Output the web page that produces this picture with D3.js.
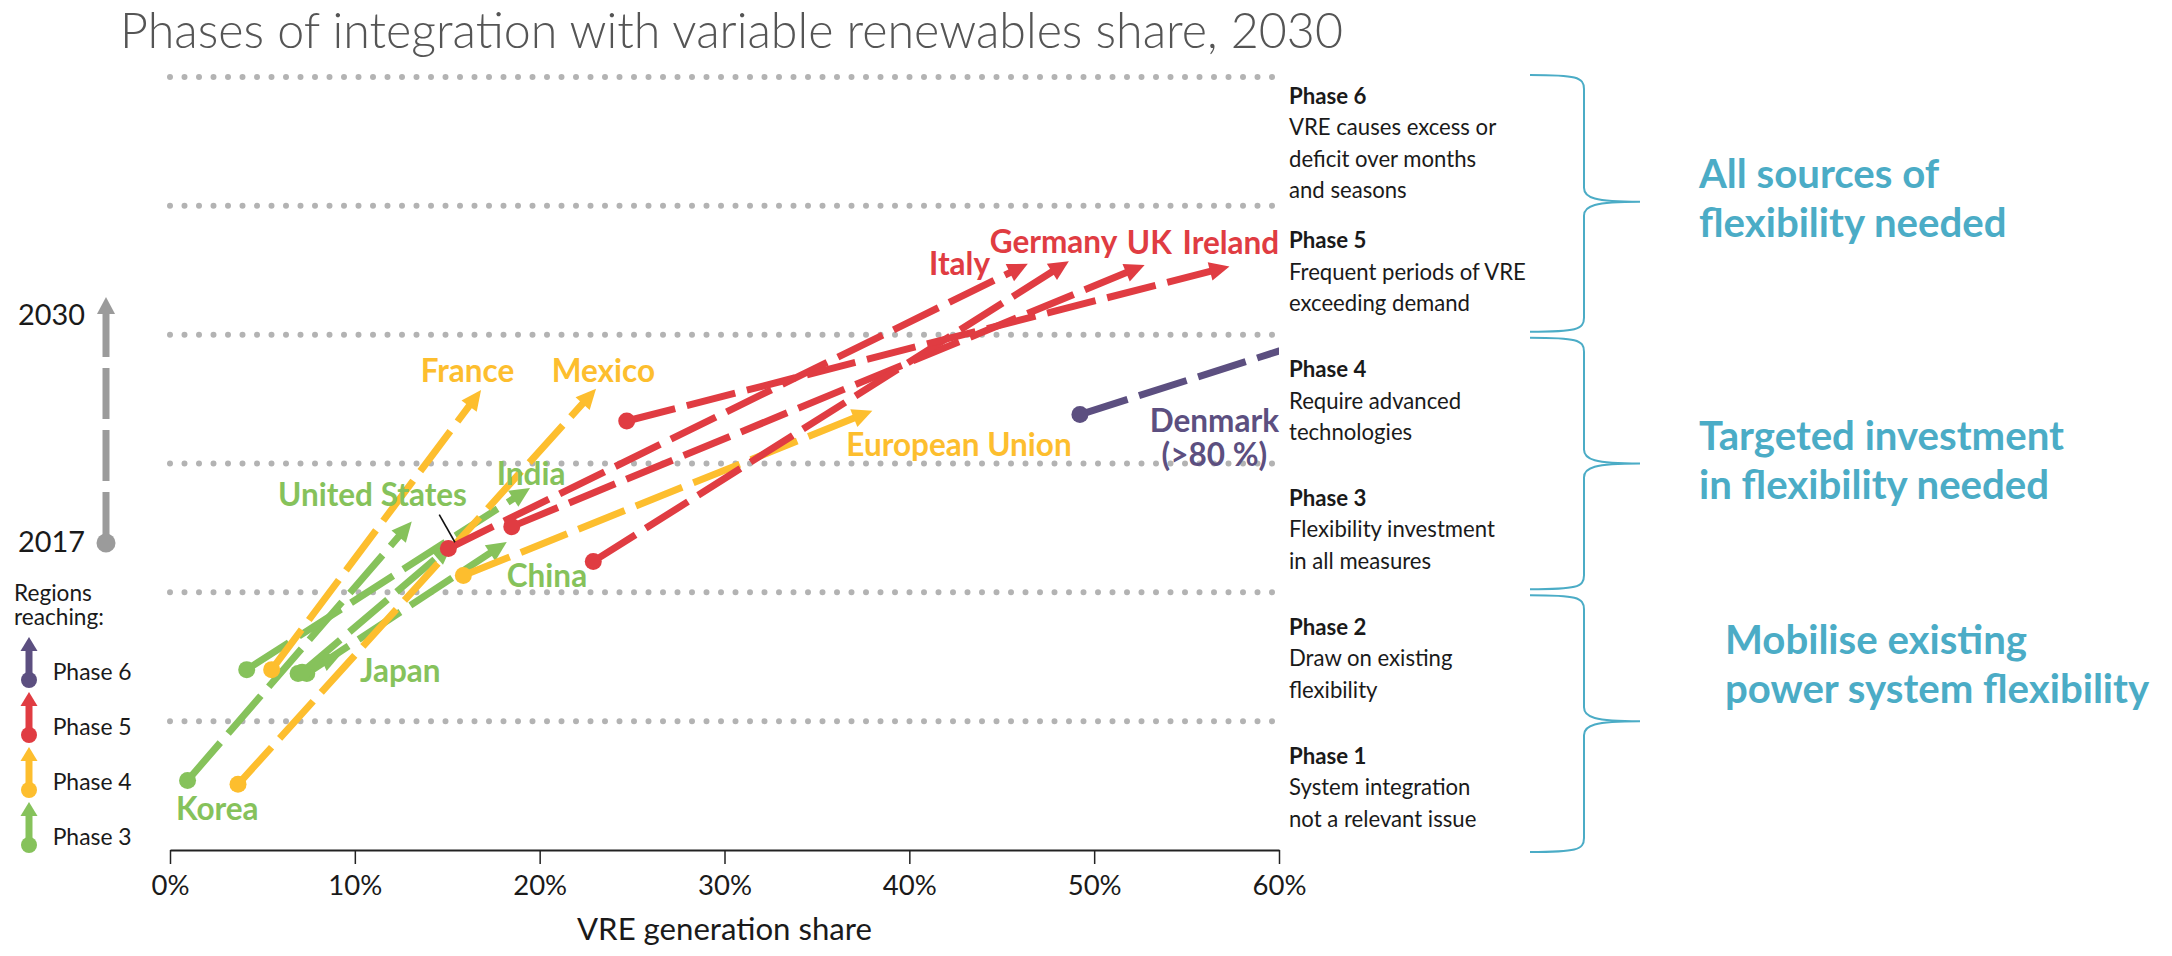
<!DOCTYPE html>
<html>
<head>
<meta charset="utf-8">
<script src="https://cdn.jsdelivr.net/npm/d3@7"></script>
<style>
  body { margin: 0; background: #fff; }
  text { font-family: Lato, "Open Sans", sans-serif; }
</style>
</head>
<body>
<script>

// regions, the phase they reach in 2030, and 2017 / 2030 positions
// (share of VRE in generation, %; vertical position on the phase scale 0-6)
var regions   = ["Korea", "India", "Japan", "China", "United States", "France", "Mexico", "European Union", "Italy", "UK", "Germany", "Ireland", "Denmark"];
var reaching  = [3, 3, 3, 3, 3, 4, 4, 4, 5, 5, 5, 5, 6];
var share2017 = [0.95, 4.15, 6.93, 7.40, 7.15, 5.50, 3.68, 15.87, 15.06, 18.49, 22.90, 24.71, 49.23];
var level2017 = [0.54, 1.40, 1.37, 1.37, 1.38, 1.40, 0.51, 2.13, 2.34, 2.51, 2.24, 3.33, 3.38];
var share2030 = [13.08, 19.48, 9.25, 18.22, 15.26, 16.83, 23.05, 38.00, 46.41, 52.73, 48.63, 57.32, 82.0];
var level2030 = [2.55, 2.81, 1.52, 2.39, 2.37, 3.57, 3.58, 3.41, 4.55, 4.54, 4.57, 4.53, 4.88];

var phases = ["Phase 1", "Phase 2", "Phase 3", "Phase 4", "Phase 5", "Phase 6"];
var phaseNotes = [
  ["System integration", "not a relevant issue"],
  ["Draw on existing", "flexibility"],
  ["Flexibility investment", "in all measures"],
  ["Require advanced", "technologies"],
  ["Frequent periods of VRE", "exceeding demand"],
  ["VRE causes excess or", "deficit over months", "and seasons"]
];
var needs = [
  ["Mobilise existing", "power system flexibility"],
  ["Targeted investment", "in flexibility needed"],
  ["All sources of", "flexibility needed"]
];
var xTicks = [0, 10, 20, 30, 40, 50, 60];
var legendPhases = [6, 5, 4, 3];

var colors = {3: "#86c25b", 4: "#fdbe2e", 5: "#e03c42", 6: "#5c4f80"};
var teal = "#4bacc6";
var ink = "#1a1a1a";

// where each name sits relative to its 2030 arrow (or 2017 dot)
var labelPos = {
  "Korea":          {from: "start", dx: -11.6, dy: 39.4},
  "India":          {from: "end", dx: -33.3, dy: -3},
  "Japan":          {from: "end", dx: 19, dy: 27.5},
  "China":          {from: "end", dx: 0, dy: 45},
  "United States":  {from: "end", dx: -174, dy: -38.4},
  "France":         {from: "end", dx: -60.4, dy: -7.7},
  "Mexico":         {from: "end", dx: -44.3, dy: -6.3},
  "European Union": {from: "end", dx: -26, dy: 45.5},
  "Italy":          {from: "end", dx: -98.8, dy: 10.7},
  "UK":             {from: "end", dx: -17.8, dy: -10.9},
  "Germany":        {from: "end", dx: -79.1, dy: -7.8},
  "Ireland":        {from: "end", dx: -46.9, dy: -12}
};

var svg = d3.select("body").append("svg")
    .attr("width", 2172)
    .attr("height", 956);

var x = d3.scaleLinear().domain([0, 60]).range([170, 1279]);
var y = d3.scaleLinear().domain([0, 6]).range([850, 77]);

function fitSize(str, weight, target) {
  var t = svg.append("text").attr("x", -2000).attr("y", -100)
    .style("font-weight", weight).style("font-size", "40px").text(str);
  var w = t.node().getComputedTextLength();
  t.remove();
  return 40 * target / w;
}

// title
svg.append("text")
    .attr("x", 120).attr("y", 48)
    .style("font-weight", 300)
    .style("font-size", fitSize("Phases of integration with variable renewables share, 2030", 300, 1223) + "px")
    .style("fill", "#555")
    .text("Phases of integration with variable renewables share, 2030");

// dotted phase boundaries
svg.append("g").selectAll("line")
    .data(d3.range(1, 7))
    .enter().append("line")
    .attr("x1", x(0)).attr("x2", x(60))
    .attr("y1", function(d) { return y(d); })
    .attr("y2", function(d) { return y(d); })
    .attr("stroke", "#b3b3b3")
    .attr("stroke-width", 6)
    .attr("stroke-linecap", "round")
    .attr("stroke-dasharray", "0,14.5");

// x axis
var tickSize = fitSize("10%", 400, 54);
var xAxis = svg.append("g")
    .attr("transform", "translate(0," + y(0) + ")")
    .call(d3.axisBottom(x).tickValues(xTicks)
      .tickFormat(function(d) { return d + "%"; })
      .tickSizeInner(14).tickSizeOuter(0).tickPadding(11));
xAxis.select(".domain").attr("stroke", "#222").attr("stroke-width", 2);
xAxis.selectAll(".tick line").attr("stroke", "#222").attr("stroke-width", 1.5);
xAxis.selectAll(".tick text")
    .style("font-family", "Lato, 'Open Sans', sans-serif")
    .style("font-size", tickSize + "px")
    .style("fill", ink);

svg.append("text")
    .attr("x", (x(0) + x(60)) / 2).attr("y", 940)
    .attr("text-anchor", "middle")
    .style("font-size", fitSize("VRE generation share", 400, 295) + "px")
    .style("fill", ink)
    .text("VRE generation share");

// phase descriptions on the right
var descSize = fitSize("Frequent periods of VRE", 400, 237);
var headSize = fitSize("Phase 6", 700, 77.5);
var pitch = 31.5;
phases.forEach(function(p, k) {
  var lines = [p].concat(phaseNotes[k]);
  var c = (y(k) + y(k + 1)) / 2;
  var top = c - (lines.length - 1) * pitch / 2 + 9.5;
  var t = svg.append("text").attr("x", 1289).attr("y", top).style("fill", ink);
  lines.forEach(function(s, j) {
    t.append("tspan")
      .attr("x", 1289)
      .attr("y", top + j * pitch)
      .style("font-weight", j == 0 ? 700 : 400)
      .style("font-size", (j == 0 ? headSize : descSize) + "px")
      .text(s);
  });
});

// braces grouping the phases
function brace(y0, ym, y1) {
  var xl = 1530, xs = 1584, xt = 1640, r = 14;
  return "M" + xl + "," + y0
    + "C" + (xs - 8) + "," + y0 + " " + xs + "," + (y0 + 2) + " " + xs + "," + (y0 + r)
    + "L" + xs + "," + (ym - r)
    + "C" + xs + "," + (ym - 4) + " " + (xs + 10) + "," + ym + " " + xt + "," + ym
    + "C" + (xs + 10) + "," + ym + " " + xs + "," + (ym + 4) + " " + xs + "," + (ym + r)
    + "L" + xs + "," + (y1 - r)
    + "C" + xs + "," + (y1 - 2) + " " + (xs - 8) + "," + y1 + " " + xl + "," + y1;
}
var tealSize = (fitSize("power system flexibility", 700, 422) + fitSize("Targeted investment", 700, 367)) / 2;
var needX = [1725, 1699, 1699];
var needBase = [654, 450, 187.5];
needs.forEach(function(lines, g) {
  var lo = g * 2, hi = g * 2 + 2;
  svg.append("path")
    .attr("d", brace(y(hi) + (g == 2 ? -2 : 3), y(lo + 1) - (g == 2 ? 4 : 0), y(lo) + (g == 0 ? 2 : -3)))
    .attr("fill", "none")
    .attr("stroke", teal)
    .attr("stroke-width", 2);
  lines.forEach(function(s, j) {
    svg.append("text")
      .attr("x", needX[g]).attr("y", needBase[g] + j * 49)
      .style("font-weight", 700)
      .style("font-size", tealSize + "px")
      .style("fill", teal)
      .text(s);
  });
});

// 2017 -> 2030 arrows
svg.append("defs").append("clipPath").attr("id", "plot")
  .append("rect").attr("x", x(0) - 20).attr("y", 0).attr("width", x(60) - x(0) + 20).attr("height", 956);

var order = d3.range(regions.length).sort(function(a, b) { return reaching[a] - reaching[b]; });
var arrows = svg.append("g").attr("clip-path", "url(#plot)");
var headLen = 20, headHalf = 9.5;

order.forEach(function(i) {
  var x0 = x(share2017[i]), y0 = y(level2017[i]);
  var x1 = x(share2030[i]), y1 = y(level2030[i]);
  var a = Math.atan2(y1 - y0, x1 - x0);
  var ca = Math.cos(a), sa = Math.sin(a);
  var col = colors[reaching[i]];
  var g = arrows.append("g");
  g.append("path")
    .attr("d", "M" + x0 + "," + y0 + "L" + (x1 - ca * (headLen - 3)) + "," + (y1 - sa * (headLen - 3)))
    .attr("fill", "none")
    .attr("stroke", col)
    .attr("stroke-width", 7)
    .attr("stroke-dasharray", "50,12");
  var bx = x1 - ca * headLen, by = y1 - sa * headLen;
  g.append("path")
    .attr("d", "M" + x1 + "," + y1
      + "L" + (bx - sa * headHalf) + "," + (by + ca * headHalf)
      + "L" + (bx + sa * headHalf) + "," + (by - ca * headHalf) + "Z")
    .attr("fill", col);
  g.append("circle")
    .attr("cx", x0).attr("cy", y0).attr("r", 8.5)
    .attr("fill", col);
});

// region names
var labelSize = (fitSize("European Union", 700, 226) + fitSize("United States", 700, 188) + fitSize("Germany", 700, 128)) / 3;
regions.forEach(function(name, i) {
  var p = labelPos[name];
  if (!p) return;
  var px = p.from == "start" ? x(share2017[i]) : x(share2030[i]);
  var py = p.from == "start" ? y(level2017[i]) : y(level2030[i]);
  svg.append("text")
    .attr("x", px + p.dx).attr("y", py + p.dy)
    .style("font-weight", 700)
    .style("font-size", labelSize + "px")
    .style("fill", colors[reaching[i]])
    .text(name);
  if (name == "United States") {
    svg.append("line")
      .attr("x1", px - 12.8).attr("y1", py - 30)
      .attr("x2", px + 2.9).attr("y2", py - 2.4)
      .attr("stroke", "#111").attr("stroke-width", 1.6);
  }
});

// Denmark sits off the scale, labelled from its 2017 point
var dk = regions.indexOf("Denmark");
var dkText = svg.append("text")
    .attr("text-anchor", "middle")
    .style("font-weight", 700)
    .style("font-size", labelSize + "px")
    .style("fill", colors[6]);
["Denmark", "(>80 %)"].forEach(function(s, j) {
  dkText.append("tspan")
    .attr("x", x(share2017[dk]) + 134.4)
    .attr("y", y(level2017[dk]) + 17 + j * 34)
    .text(s);
});

// 2017 -> 2030 time arrow on the left
var yearSize = fitSize("2030", 400, 67);
svg.append("text").attr("x", 18).attr("y", 325)
  .style("font-size", yearSize + "px").style("fill", ink).text("2030");
svg.append("text").attr("x", 18).attr("y", 552)
  .style("font-size", yearSize + "px").style("fill", ink).text("2017");
var time = svg.append("g").attr("fill", "#9b9b9b").attr("stroke", "#9b9b9b");
time.append("line")
  .attr("x1", 106).attr("x2", 106).attr("y1", 543).attr("y2", 314)
  .attr("stroke-width", 7).attr("stroke-dasharray", "51,11");
time.append("path").attr("stroke", "none")
  .attr("d", "M106,297L115,314L97,314Z");
time.append("circle").attr("stroke", "none")
  .attr("cx", 106).attr("cy", 543).attr("r", 9.5);

// legend
var regSize = fitSize("reaching:", 400, 90);
var regText = svg.append("text")
    .style("font-size", regSize + "px")
    .style("fill", ink);
regText.append("tspan").attr("x", 14).attr("y", 601).text("Regions");
regText.append("tspan").attr("x", 14).attr("y", 624.5).text("reaching:");

var legSize = fitSize("Phase 6", 400, 79);
var leg = svg.append("g").selectAll("g")
    .data(legendPhases)
    .enter().append("g")
    .attr("transform", function(d, i) { return "translate(29," + (680 + i * 55) + ")"; });
leg.append("line")
    .attr("x1", 0).attr("x2", 0).attr("y1", 0).attr("y2", -30)
    .attr("stroke", function(d) { return colors[d]; })
    .attr("stroke-width", 7);
leg.append("path")
    .attr("d", "M0,-43L8.5,-29L-8.5,-29Z")
    .attr("fill", function(d) { return colors[d]; });
leg.append("circle")
    .attr("r", 8)
    .attr("fill", function(d) { return colors[d]; });
leg.append("text")
    .attr("x", 23.7).attr("y", -0.5)
    .style("font-size", legSize + "px")
    .style("fill", ink)
    .text(function(d) { return "Phase " + d; });

</script>
</body>
</html>
